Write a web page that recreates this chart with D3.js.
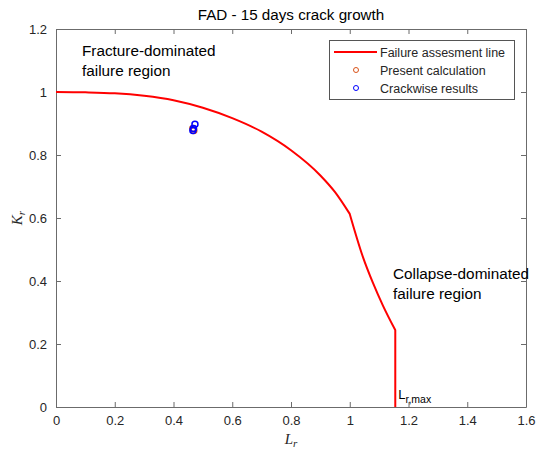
<!DOCTYPE html>
<html>
<head>
<meta charset="utf-8">
<script src="https://cdn.jsdelivr.net/npm/d3@7"></script>
<style>
  body { margin: 0; background: #fff; }
  svg { display: block; font-family: "Liberation Sans", Arial, sans-serif; }
</style>
</head>
<body>
<svg id="chart" width="536" height="452"></svg>
<script>
// Failure assessment line (Lr, Kr)
const fadLr = [0, 0.1, 0.2, 0.3, 0.4, 0.5, 0.6, 0.7, 0.8, 0.9, 0.95, 1.0, 1.045, 1.079, 1.113, 1.155, 1.155];
const fadKr = [1.0, 0.999, 0.996, 0.988, 0.974, 0.950, 0.917, 0.874, 0.815, 0.735, 0.682, 0.613, 0.476, 0.394, 0.322, 0.244, 0];
// indices where the line has a corner (end of the elastic branch, Lr,max)
const fadBreaks = [11, 15];

// Assessment points
const presentLr = [0.466, 0.469];
const presentKr = [0.884, 0.878];
const crackwiseLr = [0.473, 0.468, 0.466];
const crackwiseKr = [0.898, 0.884, 0.878];

const xTicks = [0, 0.2, 0.4, 0.6, 0.8, 1, 1.2, 1.4, 1.6];
const yTicks = [0, 0.2, 0.4, 0.6, 0.8, 1, 1.2];

const lrMax = 1.155;

const svg = d3.select("#chart");
const m = { left: 56, right: 526, top: 29, bottom: 407 };
const x = d3.scaleLinear().domain([0, 1.6]).range([m.left, m.right]);
const y = d3.scaleLinear().domain([0, 1.2]).range([m.bottom, m.top]);

const axisColor = "#6b6b6b";
const textColor = "#262626";
const tickFmt = d => d3.format("")(+d.toFixed(1));

// axes with inward ticks on all four sides
function styleAxis(g) {
  g.select(".domain").attr("stroke", axisColor);
  g.selectAll(".tick line").attr("stroke", axisColor);
  g.selectAll(".tick text").attr("fill", textColor).attr("font-size", 13);
}
svg.append("g").attr("transform", `translate(0,${m.bottom})`)
  .call(d3.axisBottom(x).tickValues(xTicks).tickFormat(tickFmt).tickSizeInner(-5).tickSizeOuter(0).tickPadding(9))
  .call(styleAxis);
svg.append("g").attr("transform", `translate(0,${m.top})`)
  .call(d3.axisTop(x).tickValues(xTicks).tickFormat("").tickSizeInner(-5).tickSizeOuter(0))
  .call(styleAxis);
svg.append("g").attr("transform", `translate(${m.left},0)`)
  .call(d3.axisLeft(y).tickValues(yTicks).tickFormat(tickFmt).tickSizeInner(-5).tickSizeOuter(0).tickPadding(9))
  .call(styleAxis);
svg.append("g").attr("transform", `translate(${m.right},0)`)
  .call(d3.axisRight(y).tickValues(yTicks).tickFormat("").tickSizeInner(-5).tickSizeOuter(0))
  .call(styleAxis);

// failure assessment line: smooth branches joined at sharp corners
const fad = fadLr.map((v, i) => [v, fadKr[i]]);
const segments = [
  fad.slice(0, fadBreaks[0] + 1),
  fad.slice(fadBreaks[0], fadBreaks[1] + 1),
  fad.slice(fadBreaks[1])
];
const smooth = d3.line().x(d => x(d[0])).y(d => y(d[1])).curve(d3.curveMonotoneX);
const straight = d3.line().x(d => x(d[0])).y(d => y(d[1]));
const fadPath = smooth(segments[0]) + smooth(segments[1]).replace(/^M[^CL]*/, "") 
  + straight(segments[2]).replace(/^M[^L]*/, "");
svg.append("path")
  .attr("fill", "none")
  .attr("stroke", "#ff0000")
  .attr("stroke-width", 2)
  .attr("stroke-linejoin", "miter")
  .attr("d", fadPath);

// assessment points
const present = presentLr.map((v, i) => [v, presentKr[i]]);
const crackwise = crackwiseLr.map((v, i) => [v, crackwiseKr[i]]);
svg.append("g").selectAll("circle").data(present).join("circle")
  .attr("cx", d => x(d[0])).attr("cy", d => y(d[1])).attr("r", 3)
  .attr("fill", "none").attr("stroke", "#d95319").attr("stroke-width", 1.5);
svg.append("g").selectAll("circle").data(crackwise).join("circle")
  .attr("cx", d => x(d[0])).attr("cy", d => y(d[1])).attr("r", 3)
  .attr("fill", "none").attr("stroke", "#0000ff").attr("stroke-width", 1.5);

// title and axis labels
svg.append("text").attr("x", (m.left + m.right) / 2).attr("y", 20)
  .attr("text-anchor", "middle").attr("font-size", 15.2).attr("fill", "#000")
  .text("FAD - 15 days crack growth");

const lrLabel = svg.append("text").attr("x", x(0.8)).attr("y", 444)
  .attr("text-anchor", "middle").attr("font-family", "'Liberation Serif', 'Times New Roman', serif")
  .attr("font-style", "italic").attr("font-size", 15).attr("fill", textColor);
lrLabel.append("tspan").text("L");
lrLabel.append("tspan").attr("font-size", 11).attr("dy", 3).text("r");

const krLabel = svg.append("text")
  .attr("transform", `translate(22,${y(0.6)}) rotate(-90)`)
  .attr("text-anchor", "middle").attr("font-family", "'Liberation Serif', 'Times New Roman', serif")
  .attr("font-style", "italic").attr("font-size", 15).attr("fill", textColor);
krLabel.append("tspan").text("K");
krLabel.append("tspan").attr("font-size", 11).attr("dy", 3).text("r");

// region annotations
function multiline(xp, yp, lines) {
  const t = svg.append("text").attr("x", xp).attr("y", yp).attr("font-size", 15.3).attr("fill", "#000");
  lines.forEach((l, i) => t.append("tspan").attr("x", xp).attr("dy", i === 0 ? 0 : 20).text(l));
}
multiline(82, 56, ["Fracture-dominated", "failure region"]);
multiline(393, 279, ["Collapse-dominated", "failure region"]);

// Lr,max marker label
const lm = svg.append("text").attr("x", x(lrMax) + 3).attr("y", 399).attr("font-size", 13).attr("fill", "#000");
lm.append("tspan").text("L");
lm.append("tspan").attr("font-size", 10.5).attr("dy", 4).text("r,max");

// legend
const lg = svg.append("g");
lg.append("rect").attr("x", 329.5).attr("y", 40.5).attr("width", 185).attr("height", 59)
  .attr("fill", "#fff").attr("stroke", "#555").attr("stroke-width", 1);
const legendRows = [
  { label: "Failure assesment line", kind: "line", color: "#ff0000" },
  { label: "Present calculation", kind: "circle", color: "#d95319" },
  { label: "Crackwise results", kind: "circle", color: "#0000ff" }
];
legendRows.forEach((r, i) => {
  const cy = 52 + i * 18;
  if (r.kind === "line") {
    lg.append("line").attr("x1", 334).attr("x2", 377).attr("y1", cy).attr("y2", cy)
      .attr("stroke", r.color).attr("stroke-width", 2);
  } else {
    lg.append("circle").attr("cx", 356).attr("cy", cy).attr("r", 2.5)
      .attr("fill", "none").attr("stroke", r.color).attr("stroke-width", 1);
  }
  lg.append("text").attr("x", 380).attr("y", cy + 4.5).attr("font-size", 12.5).attr("fill", textColor).text(r.label);
});
</script>
</body>
</html>
